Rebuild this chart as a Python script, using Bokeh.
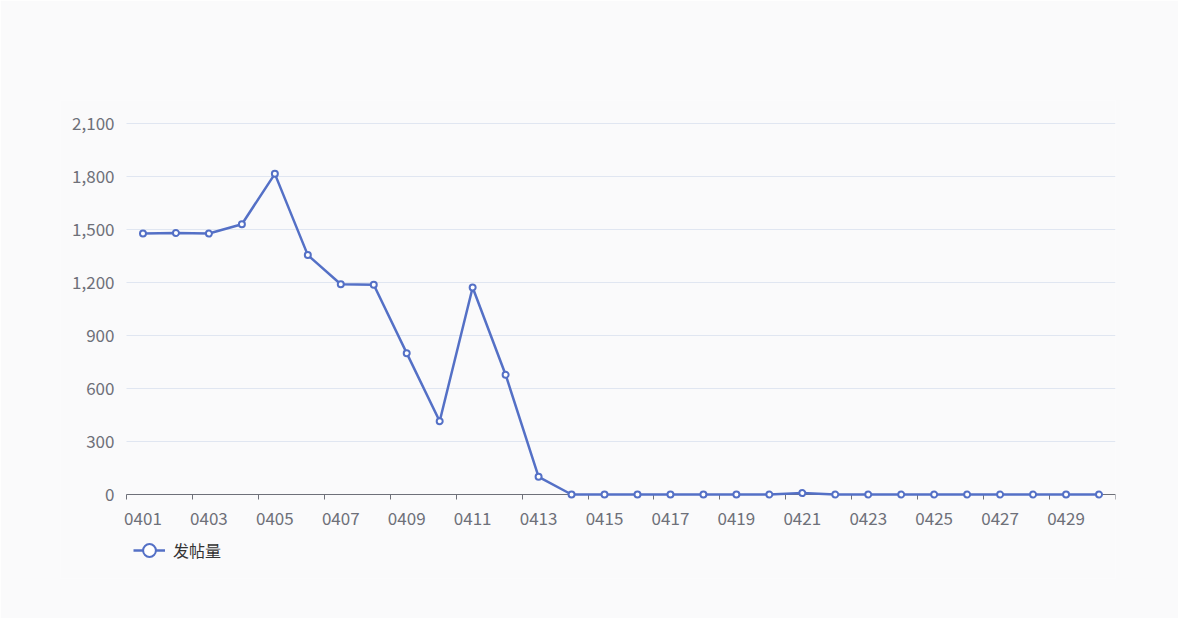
from bokeh.plotting import figure
from bokeh.models import (FixedTicker, LinearAxis, NumeralTickFormatter, Range1d,
                          Legend, LegendItem)
from bokeh.embed import file_html
from bokeh.resources import INLINE

dates = ["0401", "0402", "0403", "0404", "0405", "0406", "0407", "0408", "0409", "0410",
         "0411", "0412", "0413", "0414", "0415", "0416", "0417", "0418", "0419", "0420",
         "0421", "0422", "0423", "0424", "0425", "0426", "0427", "0428", "0429", "0430"]
posts = [1477, 1480, 1477, 1530, 1815, 1355, 1190, 1187, 800, 415,
         1172, 678, 100, 0, 0, 0, 0, 0, 0, 0,
         8, 0, 0, 0, 0, 0, 0, 0, 0, 0]
y_ticks = [0, 300, 600, 900, 1200, 1500, 1800, 2100]
series_name = "发帖量"

FONT = "Noto Sans CJK SC"
BG = "#fafafb"
AXIS = "#6e7079"
LINE = "#5470c6"

n = len(dates)
xs = [i + 0.5 for i in range(n)]

# The frame is larger than the value area so that axis labels and the legend
# are not clipped: the value area spans 989 px x 371 px inside it.
y_max = y_ticks[-1]
y_lo = -y_max * 84 / 371
y_hi = y_max * (371 + 23) / 371
x_lo = -n * 66 / 989

p = figure(width=1178, height=618, output_backend="svg", toolbar_location=None,
           x_range=Range1d(x_lo, n), y_range=Range1d(y_lo, y_hi),
           x_axis_location=None, y_axis_location=None,
           min_border_left=60, min_border_right=63, min_border_top=100,
           min_border_bottom=40,
           background_fill_color=BG, border_fill_color=BG, outline_line_color=None)
p.xgrid.visible = False
p.ygrid.visible = False

# horizontal grid lines across the category span
p.segment(x0=0, y0=y_ticks, x1=n, y1=y_ticks, line_color="#e0e6f1", line_width=1)

# y axis at x = 0
yax = LinearAxis(ticker=FixedTicker(ticks=y_ticks), fixed_location=0,
                 formatter=NumeralTickFormatter(format="0,0"),
                 axis_line_color=None, major_tick_line_color=None,
                 minor_tick_line_color=None, major_tick_out=0, major_tick_in=0,
                 major_label_standoff=12, major_label_text_font=FONT,
                 major_label_text_font_size="17px", major_label_text_color=AXIS)
p.add_layout(yax, "left")

# x axis at value 0: labels at category centres, ticks (minor) at boundaries
label_pos = [i + 0.5 for i in range(0, n, 2)]
overrides = {i + 0.5: dates[i] for i in range(0, n, 2)}
xax = LinearAxis(ticker=FixedTicker(ticks=label_pos, minor_ticks=list(range(0, n + 1, 2))),
                 fixed_location=0, bounds=(0, n),
                 major_label_overrides=overrides,
                 axis_line_color=AXIS, axis_line_width=1,
                 major_tick_line_color=None, major_tick_out=5, major_tick_in=0,
                 minor_tick_line_color=AXIS, minor_tick_out=5, minor_tick_in=0,
                 major_label_standoff=12,
                 major_label_text_font=FONT,
                 major_label_text_font_size="17px",
                 major_label_text_color=AXIS)
p.add_layout(xax, "below")

line_r = p.line(xs, posts, line_color=LINE, line_width=2.5, level="annotation")
scat_r = p.scatter(xs, posts, marker="circle", size=6, fill_color="white",
                   line_color=LINE, line_width=2, level="annotation")

legend = Legend(items=[LegendItem(label=series_name, renderers=[line_r, scat_r])],
                location=(73, 12), orientation="horizontal",
                padding=0, margin=0, border_line_color=None,
                background_fill_alpha=0, glyph_width=32, glyph_height=32,
                label_standoff=8, label_text_font=FONT, label_text_font_size="16px",
                label_text_color="#333333")
p.add_layout(legend)

open("out.html", "w").write(file_html(p, INLINE))
